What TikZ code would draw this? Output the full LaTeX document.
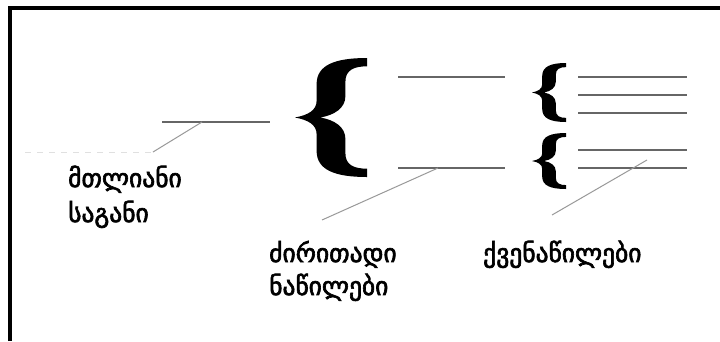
\documentclass[tikz,border=0pt]{standalone}
\usepackage{fontspec}
\newfontfamily\geofont{DejaVu Sans}[FakeBold=2.5]
\tikzset{
  frameline/.style={line width=4pt, line join=miter},
  hline/.style={draw=black!60, line width=1.6pt},
  diag/.style={draw=black!40, line width=1pt},
  faint/.style={draw=black!12, line width=1pt, dash pattern=on 6pt off 6pt},
  lbl/.style={font=\geofont\fontsize{25.5}{25.5}\selectfont, anchor=base west, inner sep=0pt},
  bracefill/.style={fill=black}
}
\newcommand\mybrace[4]{%
  \fill[bracefill, shift={(#1,#2)}, xscale=#3, yscale=#4]
    (1.0,0.0) .. controls (0.55,0.0) and (0.3,0.06) .. (0.3,0.22)
    -- (0.3,0.36) .. controls (0.3,0.44) and (0.18,0.48) .. (0.0,0.5)
    .. controls (0.18,0.52) and (0.3,0.56) .. (0.3,0.64)
    -- (0.3,0.78) .. controls (0.3,0.94) and (0.55,1.0) .. (1.0,1.0)
    -- (1.0,0.93) .. controls (0.82,0.93) and (0.7,0.9) .. (0.7,0.8)
    -- (0.7,0.68) .. controls (0.7,0.58) and (0.55,0.52) .. (0.35,0.5)
    .. controls (0.55,0.48) and (0.7,0.42) .. (0.7,0.32)
    -- (0.7,0.2) .. controls (0.7,0.1) and (0.82,0.07) .. (1.0,0.07)
    -- cycle;}
\begin{document}
\begin{tikzpicture}[x=1pt,y=-1pt]
\useasboundingbox (0,0) rectangle (720,341);
\fill[white] (0,0) rectangle (720,341);
% frame
\draw[frameline] (10,341) -- (10,8) -- (720,8);
% braces
\mybrace{295}{58}{72}{119}
\mybrace{532}{63}{34}{59}
\mybrace{532}{133}{34}{56}
% coordinates
\coordinate (a1) at (162,122); \coordinate (a2) at (270,122);
\coordinate (ad) at (202,122); \coordinate (ae) at (153,152);
\coordinate (af) at (25,152);
\coordinate (b1) at (398,77); \coordinate (b2) at (505,77);
\coordinate (c1) at (398,168); \coordinate (c2) at (505,168);
\coordinate (cd) at (438,168); \coordinate (ce) at (322,220);
\foreach \y [count=\i] in {77,95,113,150,168}{
  \coordinate (r\i a) at (578,\y); \coordinate (r\i b) at (687,\y);
  \draw[hline] (r\i a) -- (r\i b);
}
\coordinate (rd) at (647,160); \coordinate (re) at (552,215);
\draw[hline] (a1) -- (a2);
\draw[diag] (ad) -- (ae);
\draw[faint] (af) -- (ae);
\draw[hline] (b1) -- (b2);
\draw[hline] (c1) -- (c2);
\draw[diag] (cd) -- (ce);
\draw[diag] (rd) -- (re);
% labels
\node[lbl] (t1) at (68,187) {მთლიანი};
\node[lbl] (t2) at (68,222) {საგანი};
\node[lbl] (t3) at (269,262) {ძირითადი};
\node[lbl] (t4) at (269,295) {ნაწილები};
\node[lbl] (t5) at (483,262) {ქვენაწილები};
\end{tikzpicture}
\end{document}
